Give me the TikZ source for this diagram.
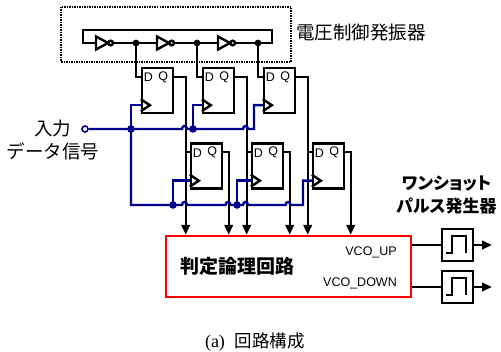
\documentclass[tikz,border=0pt]{standalone}
\usepackage{fontspec}
\setmainfont{Liberation Sans}
\newfontfamily\jp{Noto Sans CJK JP}
\newfontfamily\jpp[RawFeature=+palt]{Noto Sans CJK JP}
\newfontfamily\capserif{Liberation Serif}
\usepackage{tikz}
\usetikzlibrary{arrows.meta,positioning,calc}
\definecolor{clkblue}{RGB}{0,0,140}
\newcommand{\hop}{.. controls +(0,-4) and +(0,-4) .. ++(5,0)}

\begin{document}
\begin{tikzpicture}[x=1pt,y=-1pt,
		wire/.style={line width=2.4pt},
		clk/.style={draw=clkblue,line width=2.4pt},
		ff/.style={draw,line width=2.4pt,fill=white,minimum width=31pt,minimum height=45pt,inner sep=0pt},
		jplbl/.style={font=\jp\fontsize{18.5}{23}\selectfont,inner sep=0pt},
		pin/.style={font=\fontsize{12.5}{12.5}\selectfont,inner sep=0pt},
		>={Triangle[width=8.5pt,length=10pt]}]
		\useasboundingbox (0,0) rectangle (501,352);
		% ring oscillator
		\draw[line width=1.2pt,dash pattern=on 1.5pt off 1pt] (61,7) rectangle (291,62);
		\draw[wire] (83,30) rectangle (272,43);
		\foreach \i/\x in {1/136,2/197,3/258}{
				\coordinate (n\i) at (\x,43);
				\filldraw[wire,fill=white] (\x-40,36.5) -- (\x-28,43) -- (\x-40,49.5) -- cycle;
				\filldraw[wire,fill=white] (\x-25.3,43) circle (2.3);
				\fill (n\i) circle (3.4);
		}
		\node[jplbl,anchor=west] (vcolbl) at (296,33) {電圧制御発振器};
		% decision logic
		\node[draw=red,line width=2.4pt,minimum width=245pt,minimum height=61pt,inner sep=0pt] (logic) at (288.5,266.5) {};
		\node[font=\jp\bfseries\fontsize{19}{19}\selectfont,inner sep=0pt,anchor=west] (logiclbl) at ([xshift=15pt]logic.west) {判定論理回路};
		\node[font=\fontsize{12.5}{12.5}\selectfont,inner sep=0pt,anchor=east] (uplbl) at (397,252) {VCO\_UP};
		\node[font=\fontsize{12.5}{12.5}\selectfont,inner sep=0pt,anchor=east] (dnlbl) at (397,283) {VCO\_DOWN};
		% flip-flops
		\foreach \i in {1,2,3}{
				\node[ff] (fa\i) at (96.5+61*\i,90.5) {};
				\node[ff] (fb\i) at (145.5+61*\i,166) {};
				\coordinate (qa\i) at ([xshift=11.5pt]fa\i.east);
				\coordinate (qb\i) at ([xshift=5.5pt]fb\i.east);
				\draw[wire] (n\i) |- ([yshift=-10pt]fa\i.north west);
				\draw[wire,->] ([yshift=-10pt]fa\i.north east) -| (qa\i |- logic.north);
				\draw[wire] (qa\i |- fb\i.north west) ++(0,10) -- ([yshift=-10pt]fb\i.north west);
				\draw[wire,->] ([yshift=-10pt]fb\i.north east) -| (qb\i |- logic.north);
		}
		\foreach \f in {fa1,fa2,fa3,fb1,fb2,fb3}{
				\node[pin] at ([xshift=7.5pt,yshift=-10.5pt]\f.north west) {D};
				\node[pin] at ([xshift=22.5pt,yshift=-10.5pt]\f.north west) {Q};
				\draw[wire] ([yshift=15pt]\f.south west) -- ++(9,6) -- ++(-9,6);
		}
		% data input (clock lines)
		\node[circle,draw=clkblue,line width=1.6pt,fill=white,inner sep=0pt,minimum size=6pt] (din) at (85,129) {};
		\node[jplbl,align=center] (dinlbl) at (53,140.5) {入力\\データ信号};
		\coordinate (c1) at (131,129);
		\coordinate (c2) at (193,129);
		\coordinate (c3) at (173,205);
		\coordinate (c4) at (237,205);
		\draw[clk] (din) -- (182,129) \hop -- (243,129) \hop -- (254,129) |- ([yshift=9pt]fa3.south west);
		\draw[clk] (c1) |- (182,205) \hop -- (225.5,205) \hop -- (243,205) \hop -- (285.5,205) \hop -- (303,205) |- ([yshift=9pt]fb3.south west);
		\draw[clk] (c1) |- ([yshift=9pt]fa1.south west);
		\draw[clk] (c2) |- ([yshift=9pt]fa2.south west);
		\draw[clk] (c3) |- ([yshift=9pt]fb1.south west);
		\draw[clk] (c4) |- ([yshift=9pt]fb2.south west);
		\foreach \c in {c1,c2,c3,c4}
			\fill[clkblue] (\c) circle (3.8);
		% one-shot pulse generators
		\node[font=\jpp\bfseries\fontsize{17}{23}\selectfont,inner sep=0pt,align=center] (oslbl) at (446.5,195.5) {ワンショット\\パルス発生器};
		\foreach \i/\y in {1/245,2/287}{
				\node[ff,minimum height=32pt] (os\i) at (457.5,\y) {};
				\coordinate (o\i) at (492,\y);
				\draw[wire] ([xshift=-11.5pt,yshift=-8pt]os\i.center) -- ++(6,0) -- ++(0,-17) -- ++(14,0) -- ++(0,17);
				\draw[wire] (logic.east |- os\i) -- (os\i);
				\draw[wire,->] (os\i) -- (o\i);
		}
		\node[inner sep=0pt] (cap) at (255,342) {{\capserif\fontsize{18}{18}\selectfont (a)}\hspace{10pt}{\jp\fontsize{17.5}{17.5}\selectfont 回路構成}};
\end{tikzpicture}
\end{document}
